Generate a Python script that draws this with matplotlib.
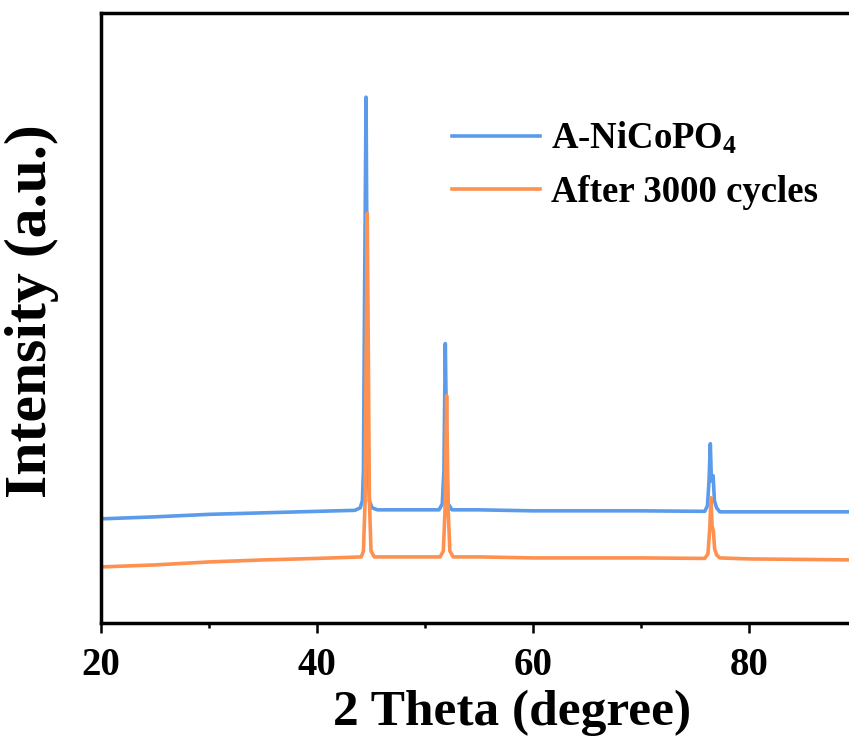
#!/usr/bin/env python3
"""XRD pattern: A-NiCoPO4 before / after 3000 cycles."""
import matplotlib
matplotlib.use("Agg")
import matplotlib.pyplot as plt   # noqa: E402
from matplotlib.ticker import MultipleLocator   # noqa: E402

# ── data (intensity in a.u.) ─────────────────────────────────────────────
fresh_2theta = [20, 25, 30, 35, 40, 43.5, 44.0, 44.2, 44.3, 44.4, 44.54,
                44.65, 44.75, 44.85, 45.1, 45.6, 48, 51.3, 51.6, 51.75,
                51.82, 51.88, 51.95, 52.02, 52.15, 52.5, 55, 60, 65, 70,
                75.9, 76.15, 76.3, 76.42, 76.52, 76.6, 76.68, 76.8, 77.0,
                77.3, 80, 85, 89.5]
fresh_int = [1040, 1060, 1085, 1100, 1115, 1125, 1150, 1220, 1520, 3220, 5250,
             3220, 1520, 1220, 1150, 1130, 1130, 1130, 1190, 1520,
             2220, 2790, 2220, 1520, 1190, 1130, 1130, 1120, 1120, 1120,
             1115, 1170, 1420, 1790, 1420, 1450, 1470, 1220, 1150,
             1110, 1110, 1110, 1110]

cycled_2theta = [20, 25, 30, 35, 40, 44.1, 44.3, 44.45, 44.55, 44.65, 44.75,
                 44.85, 45.0, 45.3, 48, 51.4, 51.7, 51.85, 51.93, 52.0,
                 52.07, 52.15, 52.3, 52.6, 55, 60, 65, 70, 75.9, 76.2,
                 76.38, 76.48, 76.58, 76.7, 76.82, 77.0, 77.3, 80, 85, 89.5]
cycled_int = [560, 580, 610, 630, 645, 660, 720, 1220, 2720, 4090, 2720,
              1220, 720, 660, 660, 660, 720, 1120, 1720, 2270,
              1720, 1120, 720, 660, 660, 650, 650, 650, 645, 690,
              970, 1250, 970, 920, 740, 680, 650, 640, 635, 630]

labels = [r"A-NiCoPO$_4$", "After 3000 cycles"]
colors = ["#5b9bea", "#fe9150"]

plt.rcParams["font.family"] = ["Liberation Serif", "DejaVu Serif"]
plt.rcParams["font.weight"] = "bold"
plt.rcParams["mathtext.fontset"] = "custom"
plt.rcParams["mathtext.rm"] = "Liberation Serif:bold"
plt.rcParams["mathtext.it"] = "Liberation Serif:bold"
plt.rcParams["mathtext.bf"] = "Liberation Serif:bold"

fig = plt.figure(figsize=(8.49, 7.44), dpi=100)
# right edge of the frame sits just past the figure, as in the reference
ax = fig.add_axes([0.119, 0.1626, 0.8904, 0.8199])

ax.plot(fresh_2theta, fresh_int, color=colors[0], lw=2.6, label=labels[0])
ax.plot(cycled_2theta, cycled_int, color=colors[1], lw=2.6, label=labels[1])

ax.set_xlim(20, 90)
ax.set_ylim(0, 6090)
ax.xaxis.set_major_locator(MultipleLocator(20))
ax.xaxis.set_minor_locator(MultipleLocator(10))
ax.set_yticks([])
ax.tick_params(axis="x", which="major", direction="out", length=7,
               width=1.8, labelsize=28, pad=10)
ax.tick_params(axis="x", which="minor", direction="out", length=3.6,
               width=1.8)
for side in ("left", "bottom", "top"):
    ax.spines[side].set_linewidth(2.5)
ax.spines["right"].set_visible(False)

ax.set_xlabel("2 Theta (degree)", fontsize=37, fontweight="bold")
ax.xaxis.set_label_coords(0.544, -0.11)
ax.xaxis.label.set_va("top")
ax.set_ylabel("Intensity (a.u.)", fontsize=43, fontweight="bold")
ax.yaxis.set_label_coords(-0.056, 0.512)

ax.legend(loc="upper left", bbox_to_anchor=(0.532, 0.838),
          bbox_transform=fig.transFigure, frameon=False, fontsize=26.5,
          handlelength=2.4, handletextpad=0.3, labelspacing=0.5,
          borderpad=0, borderaxespad=0)

fig.savefig("out.png", dpi=100)
